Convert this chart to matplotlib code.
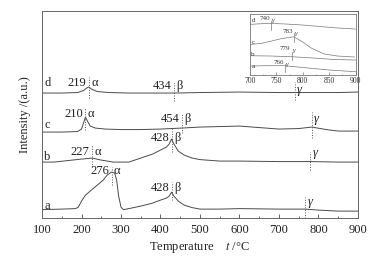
import numpy as np
import matplotlib.pyplot as plt
from matplotlib.ticker import MultipleLocator

plt.rcParams['font.family'] = ['Liberation Serif', 'DejaVu Serif']
plt.rcParams['mathtext.fontset'] = 'stix'

# curve data (temperature in C, intensity in a.u.)
temp_a = [100, 150, 185, 192, 200, 210, 225, 240, 255, 265, 276, 284, 289, 294, 300, 306, 320, 350, 380, 400,
          415, 422, 428, 434, 445, 460, 480, 500, 550, 600, 700, 766, 800, 850, 900]
int_a = [8.5, 9, 9.5, 11, 17, 23, 28, 33, 38, 43, 46, 45, 38, 22, 11, 8.5, 9.5, 12, 15, 18,
         20, 22, 26, 22, 17, 13, 10.5, 9, 9, 9.5, 9, 9, 8, 7, 7]

temp_b = [100, 130, 165, 200, 227, 250, 280, 320, 350, 380, 400, 415, 422, 428, 434, 445, 460, 480, 500, 550,
          600, 700, 779, 850, 900]
int_b = [56, 56, 57.5, 59, 60, 58, 56, 56, 60, 64, 68, 71, 74, 79, 74, 67, 63, 60, 58.5, 57,
         57, 56.5, 56.5, 56, 56]

temp_c = [100, 150, 190, 200, 205, 210, 215, 222, 235, 260, 300, 350, 400, 454, 500, 550, 600, 650, 700, 750,
          783, 820, 850, 900]
int_c = [86, 86, 86.5, 89, 95, 101, 97, 92, 90, 89, 88.5, 88.5, 89, 90, 91, 91.5, 92, 90.5, 89, 89.5,
         91, 88.5, 87, 87]

temp_d = [100, 150, 190, 205, 215, 219, 225, 240, 270, 320, 400, 434, 500, 600, 700, 740, 800, 850, 900]
int_d = [125, 125, 125.5, 127.5, 130.5, 131, 129, 126.5, 125.5, 125, 125, 125, 125.5, 126, 125.5, 125.5, 125.5, 125.5, 126]

curves = [(temp_a, int_a, 'a', 12), (temp_b, int_b, 'b', 61), (temp_c, int_c, 'c', 93), (temp_d, int_d, 'd', 135)]

# peak marks: temperature, number, greek letter, text height, dotted line from/to
peaks_a = [(276, '276', 'α', 47, 33, 51), (428, '428', 'β', 30, 18, 36), (766, '', 'γ', 16, 0, 21)]
peaks_b = [(227, '227', 'α', 66, 51, 73), (428, '428', 'β', 80, 66, 90), (779, '', 'γ', 65, 48, 66)]
peaks_c = [(210, '210', 'α', 104, 88, 110), (454, '454', 'β', 99, 85, 105), (783, '', 'γ', 99, 80, 106)]
peaks_d = [(219, '219', 'α', 135, 120, 141), (434, '434', 'β', 132, 117, 137), (740, '', 'γ', 128, 118, 136)]

# inset (700-900 C) data
in_temp_a = [700, 730, 766, 800, 850, 900]
in_int_a = [9, 9.3, 9.3, 7.5, 5, 3.3]
in_temp_b = [700, 740, 780, 820, 860, 900]
in_int_b = [19.3, 19, 18.3, 17, 15.5, 15]
in_temp_c = [700, 720, 741, 760, 783, 800, 816, 841, 866, 898]
in_int_c = [30.7, 31.5, 34, 36.5, 38.3, 33, 27, 21, 19, 18]
in_temp_d = [700, 720, 740, 770, 800, 830, 860, 900]
in_int_d = [50.7, 51.3, 51.7, 51, 50, 48.7, 47.3, 46]
in_curves = [(in_temp_a, in_int_a, 'a', 9), (in_temp_b, in_int_b, 'b', 21),
             (in_temp_c, in_int_c, 'c', 33), (in_temp_d, in_int_d, 'd', 55)]
in_peaks = [(766, '766', 13, 3, 11), (779, '779', 27, 15, 23), (783, '783', 44, 33, 42), (740, '740', 57, 45, 54)]

col = '#4a4a4a'
fig = plt.figure(figsize=(3.82, 2.56), dpi=100)
ax = fig.add_axes([0.110, 0.148, 0.827, 0.809])

for t, v, name, ly in curves:
    ax.plot(t, v, color=col, lw=0.7)
    ax.text(113, ly, name, fontsize=9, color='#222222', ha='center', va='center')

for peaks in [peaks_a, peaks_b, peaks_c, peaks_d]:
    for t, num, greek, ty, y0, y1 in peaks:
        ax.plot([t, t], [y0, y1], color='#555555', lw=0.7, ls=(0, (1, 1.6)))
        if num:
            ax.text(t - 6, ty, num, fontsize=9, color='#222222', ha='right', va='center')
        ax.text(t + 6, ty, greek, fontsize=9, color='#222222', ha='left', va='center',
                style='italic' if greek == 'γ' else 'normal')

ax.set_xlim(100, 900)
ax.set_ylim(0, 207)
ax.set_yticks([])
ax.xaxis.set_major_locator(MultipleLocator(100))
ax.xaxis.set_minor_locator(MultipleLocator(50))
ax.tick_params(axis='x', which='major', direction='in', length=3, width=0.6, colors=col,
               labelsize=9, labelcolor='#222222', pad=4)
ax.tick_params(axis='x', which='minor', direction='in', length=1.8, width=0.6, colors=col)
for s in ax.spines.values():
    s.set_color('#666666')
    s.set_linewidth(0.7)
ax.set_xlabel('Temperature    $t$ /°C', fontsize=9, color='#222222', labelpad=3)
ax.set_ylabel('Intensity /(a.u.)', fontsize=9, color='#222222', labelpad=8)

# inset
ins = fig.add_axes([0.654, 0.707, 0.277, 0.238])
for t, v, name, ly in in_curves:
    ins.plot(t, v, color='#777777', lw=0.5)
    ins.text(706, ly, name, fontsize=5, color='#333333', ha='center', va='center')
for t, num, ty, y0, y1 in in_peaks:
    ins.plot([t, t], [y0, y1], color='#777777', lw=0.5)
    ins.text(t - 2, ty, num, fontsize=5, color='#333333', ha='right', va='center')
    ins.text(t + 2, ty - 2.5, 'γ', fontsize=5, color='#333333', ha='left', va='center', style='italic')
ins.set_xlim(700, 900)
ins.set_ylim(0, 61)
ins.set_yticks([])
ins.xaxis.set_major_locator(MultipleLocator(50))
ins.xaxis.set_minor_locator(MultipleLocator(25))
ins.tick_params(axis='x', which='major', direction='in', length=2, width=0.5, colors='#777777',
                labelsize=5.5, labelcolor='#333333', pad=1.5)
ins.tick_params(axis='x', which='minor', direction='in', length=1, width=0.5, colors='#777777')
for s in ins.spines.values():
    s.set_color('#777777')
    s.set_linewidth(0.6)

plt.savefig('out.png', dpi=100)
print('Saved out.png')
